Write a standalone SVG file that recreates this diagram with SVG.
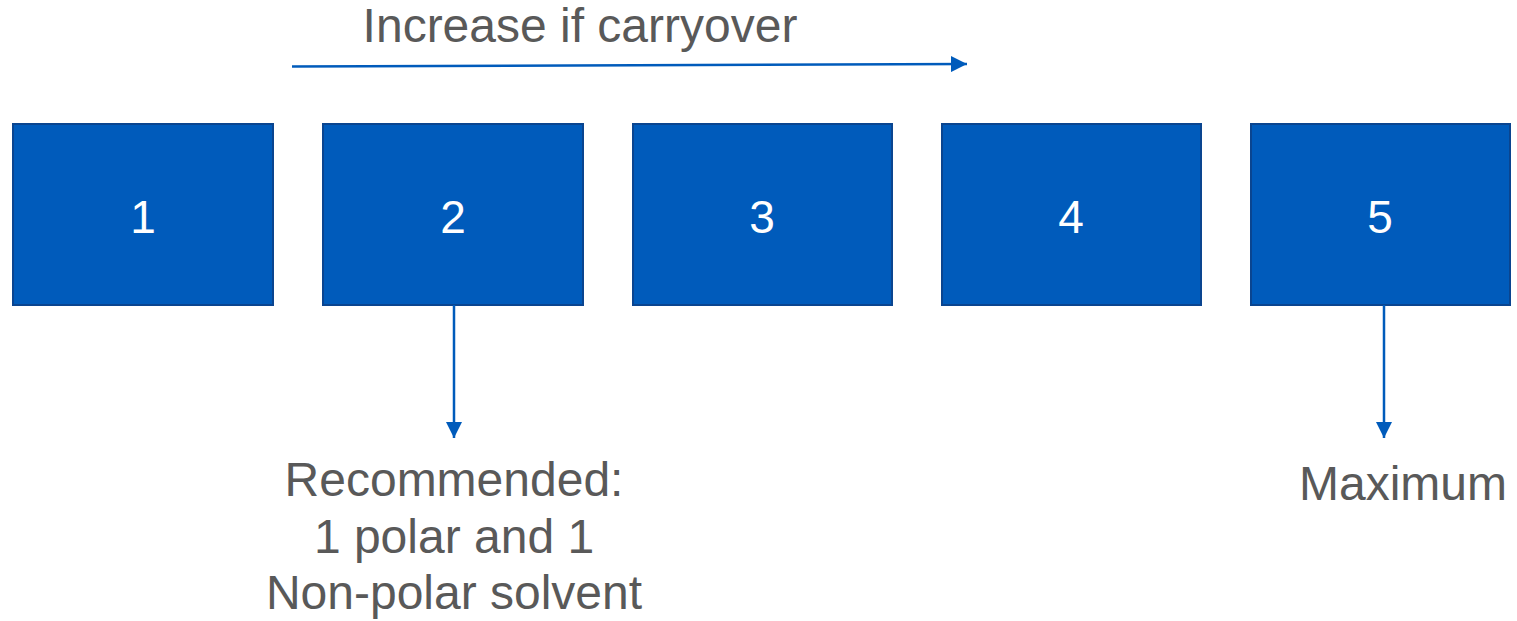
<svg xmlns="http://www.w3.org/2000/svg" width="1517" height="621" viewBox="0 0 1517 621">
<style>
.box{fill:#005bbb;stroke:#0a4590;stroke-width:2}
.num{font-family:"Liberation Sans",Arial,sans-serif;font-size:46px;fill:#ffffff;text-anchor:middle}
.lbl{font-family:"Liberation Sans",Arial,sans-serif;font-size:48px;fill:#595959;text-anchor:middle}
.con{stroke:#005bbb;stroke-width:2.5;fill:none}
</style>
<defs>
<marker id="ah" viewBox="0 0 10 10" refX="10" refY="5" markerWidth="6.5" markerHeight="6.5" markerUnits="strokeWidth" orient="auto">
<path d="M0,0 L10,5 L0,10 Z" fill="#005bbb"/>
</marker>
</defs>
<rect width="1517" height="621" fill="#ffffff"/>
<g id="node1"><rect class="box" x="13" y="124" width="260" height="181"/><text class="num" x="143" y="233">1</text></g>
<g id="node2"><rect class="box" x="323" y="124" width="260" height="181"/><text class="num" x="453" y="233">2</text></g>
<g id="node3"><rect class="box" x="633" y="124" width="259" height="181"/><text class="num" x="762" y="233">3</text></g>
<g id="node4"><rect class="box" x="942" y="124" width="259" height="181"/><text class="num" x="1071" y="233">4</text></g>
<g id="node5"><rect class="box" x="1251" y="124" width="259" height="181"/><text class="num" x="1380" y="233">5</text></g>
<g id="connectors">
<line class="con" x1="292" y1="66.5" x2="967" y2="64" marker-end="url(#ah)"/>
<line class="con" x1="454" y1="305" x2="454" y2="438" marker-end="url(#ah)"/>
<line class="con" x1="1384" y1="305" x2="1384" y2="438" marker-end="url(#ah)"/>
</g>
<g id="labels">
<text class="lbl" x="580" y="42">Increase if carryover</text>
<text class="lbl" x="454" y="496">Recommended:</text>
<text class="lbl" x="454" y="553">1 polar and 1</text>
<text class="lbl" x="454" y="609">Non-polar solvent</text>
<text class="lbl" x="1403" y="500">Maximum</text>
</g>
</svg>
